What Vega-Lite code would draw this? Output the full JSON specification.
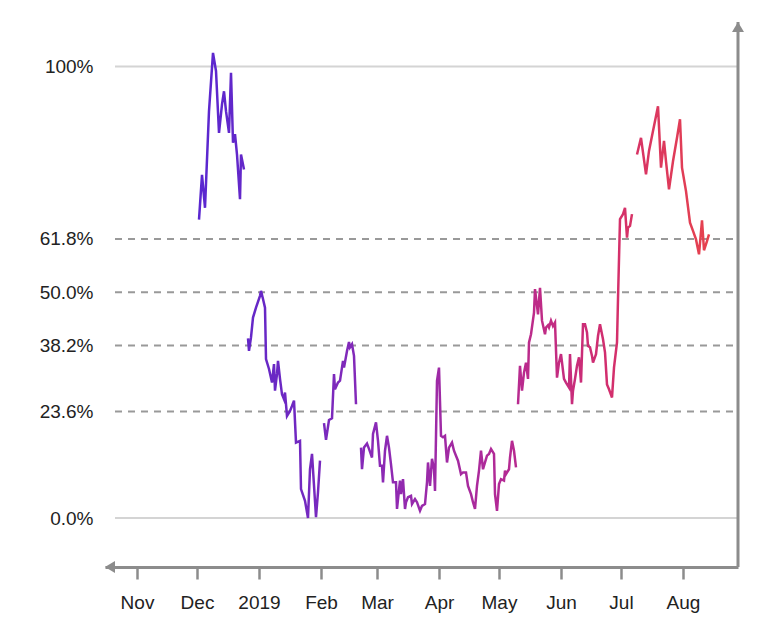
{
  "$schema": "https://vega.github.io/schema/vega-lite/v6.json",
  "width": 633,
  "height": 545,
  "autosize": {"type": "none"},
  "padding": {"left": 105, "top": 22, "right": 19, "bottom": 64},
  "background": "white",
  "config": {"view": {"stroke": null}, "font": "Liberation Sans"},
  "datasets": {
    "levels": [
      {"level": 0, "kind": "solid"},
      {"level": 0.236, "kind": "dashed"},
      {"level": 0.382, "kind": "dashed"},
      {"level": 0.5, "kind": "dashed"},
      {"level": 0.618, "kind": "dashed"},
      {"level": 1, "kind": "solid"}
    ],
    "series": [
      {"d": "2018-12-02", "v": 0.661},
      {"d": "2018-12-03T12:00Z", "v": 0.760},
      {"d": "2018-12-05", "v": 0.687},
      {"d": "2018-12-07", "v": 0.901},
      {"d": "2018-12-09", "v": 1.030},
      {"d": "2018-12-10T12:00Z", "v": 0.990},
      {"d": "2018-12-12", "v": 0.853},
      {"d": "2018-12-13T12:00Z", "v": 0.916},
      {"d": "2018-12-14T12:00Z", "v": 0.945},
      {"d": "2018-12-15T12:00Z", "v": 0.901},
      {"d": "2018-12-17", "v": 0.853},
      {"d": "2018-12-18", "v": 0.986},
      {"d": "2018-12-19", "v": 0.831},
      {"d": "2018-12-20", "v": 0.850},
      {"d": "2018-12-21", "v": 0.805},
      {"d": "2018-12-22T12:00Z", "v": 0.706},
      {"d": "2018-12-23", "v": 0.805},
      {"d": "2018-12-24T12:00Z", "v": 0.772},
      {"d": "2018-12-25T12:00Z", "v": null},
      {"d": "2018-12-26T12:00Z", "v": 0.398},
      {"d": "2018-12-27", "v": 0.370},
      {"d": "2018-12-28", "v": 0.400},
      {"d": "2018-12-29", "v": 0.444},
      {"d": "2018-12-30T12:00Z", "v": 0.466},
      {"d": "2019-01-01T12:00Z", "v": 0.492},
      {"d": "2019-01-02", "v": 0.503},
      {"d": "2019-01-03", "v": 0.485},
      {"d": "2019-01-04", "v": 0.466},
      {"d": "2019-01-04T12:00Z", "v": 0.352},
      {"d": "2019-01-06", "v": 0.330},
      {"d": "2019-01-07T12:00Z", "v": 0.300},
      {"d": "2019-01-08T12:00Z", "v": 0.341},
      {"d": "2019-01-09", "v": 0.282},
      {"d": "2019-01-10", "v": 0.319},
      {"d": "2019-01-10T12:00Z", "v": 0.348},
      {"d": "2019-01-11T12:00Z", "v": 0.308},
      {"d": "2019-01-12T12:00Z", "v": 0.274},
      {"d": "2019-01-13T12:00Z", "v": 0.263},
      {"d": "2019-01-14", "v": 0.278},
      {"d": "2019-01-15", "v": 0.226},
      {"d": "2019-01-16T12:00Z", "v": 0.237},
      {"d": "2019-01-17T12:00Z", "v": 0.248},
      {"d": "2019-01-18T12:00Z", "v": 0.260},
      {"d": "2019-01-19T12:00Z", "v": 0.167},
      {"d": "2019-01-21T12:00Z", "v": 0.171},
      {"d": "2019-01-22", "v": 0.064},
      {"d": "2019-01-24", "v": 0.038},
      {"d": "2019-01-25T12:00Z", "v": 0.000},
      {"d": "2019-01-26T12:00Z", "v": 0.108},
      {"d": "2019-01-27T12:00Z", "v": 0.142},
      {"d": "2019-01-29T12:00Z", "v": 0.002},
      {"d": "2019-01-30T12:00Z", "v": 0.057},
      {"d": "2019-01-31T12:00Z", "v": 0.127},
      {"d": "2019-02-01T12:00Z", "v": null},
      {"d": "2019-02-02T12:00Z", "v": 0.210},
      {"d": "2019-02-03T12:00Z", "v": 0.173},
      {"d": "2019-02-05", "v": 0.217},
      {"d": "2019-02-06T12:00Z", "v": 0.221},
      {"d": "2019-02-07T12:00Z", "v": 0.319},
      {"d": "2019-02-08", "v": 0.285},
      {"d": "2019-02-09T12:00Z", "v": 0.300},
      {"d": "2019-02-10T12:00Z", "v": 0.304},
      {"d": "2019-02-12", "v": 0.348},
      {"d": "2019-02-12T12:00Z", "v": 0.333},
      {"d": "2019-02-14", "v": 0.370},
      {"d": "2019-02-15", "v": 0.390},
      {"d": "2019-02-15T12:00Z", "v": 0.378},
      {"d": "2019-02-16T12:00Z", "v": 0.385},
      {"d": "2019-02-17T12:00Z", "v": 0.359},
      {"d": "2019-02-18T12:00Z", "v": 0.252},
      {"d": "2019-02-20", "v": null},
      {"d": "2019-02-21", "v": 0.156},
      {"d": "2019-02-21T12:00Z", "v": 0.108},
      {"d": "2019-02-22T12:00Z", "v": 0.156},
      {"d": "2019-02-24", "v": 0.165},
      {"d": "2019-02-25", "v": 0.153},
      {"d": "2019-02-26T12:00Z", "v": 0.134},
      {"d": "2019-02-27", "v": 0.186},
      {"d": "2019-02-28T12:00Z", "v": 0.212},
      {"d": "2019-03-01T12:00Z", "v": 0.171},
      {"d": "2019-03-02T12:00Z", "v": 0.116},
      {"d": "2019-03-03T12:00Z", "v": 0.116},
      {"d": "2019-03-04", "v": 0.079},
      {"d": "2019-03-05", "v": 0.149},
      {"d": "2019-03-06", "v": 0.182},
      {"d": "2019-03-07", "v": 0.156},
      {"d": "2019-03-08", "v": 0.119},
      {"d": "2019-03-09", "v": 0.079},
      {"d": "2019-03-10T12:00Z", "v": 0.079},
      {"d": "2019-03-11", "v": 0.020},
      {"d": "2019-03-12T12:00Z", "v": 0.083},
      {"d": "2019-03-13", "v": 0.053},
      {"d": "2019-03-14", "v": 0.086},
      {"d": "2019-03-15", "v": 0.020},
      {"d": "2019-03-15T12:00Z", "v": 0.035},
      {"d": "2019-03-16T12:00Z", "v": 0.046},
      {"d": "2019-03-18", "v": 0.049},
      {"d": "2019-03-18T12:00Z", "v": 0.031},
      {"d": "2019-03-20", "v": 0.042},
      {"d": "2019-03-21", "v": 0.035},
      {"d": "2019-03-22T12:00Z", "v": 0.016},
      {"d": "2019-03-23T12:00Z", "v": 0.027},
      {"d": "2019-03-25", "v": 0.031},
      {"d": "2019-03-26", "v": 0.079},
      {"d": "2019-03-26T12:00Z", "v": 0.123},
      {"d": "2019-03-27T12:00Z", "v": 0.071},
      {"d": "2019-03-28T12:00Z", "v": 0.131},
      {"d": "2019-03-29T12:00Z", "v": 0.108},
      {"d": "2019-03-30", "v": 0.060},
      {"d": "2019-03-31", "v": 0.304},
      {"d": "2019-04-01", "v": 0.333},
      {"d": "2019-04-02", "v": 0.182},
      {"d": "2019-04-03", "v": 0.179},
      {"d": "2019-04-04", "v": 0.182},
      {"d": "2019-04-05", "v": 0.123},
      {"d": "2019-04-06", "v": 0.156},
      {"d": "2019-04-07T12:00Z", "v": 0.167},
      {"d": "2019-04-08T12:00Z", "v": 0.149},
      {"d": "2019-04-09T12:00Z", "v": 0.138},
      {"d": "2019-04-10T12:00Z", "v": 0.127},
      {"d": "2019-04-12", "v": 0.097},
      {"d": "2019-04-13", "v": 0.101},
      {"d": "2019-04-14T12:00Z", "v": 0.101},
      {"d": "2019-04-15T12:00Z", "v": 0.071},
      {"d": "2019-04-17", "v": 0.053},
      {"d": "2019-04-18", "v": 0.035},
      {"d": "2019-04-19", "v": 0.020},
      {"d": "2019-04-20", "v": 0.071},
      {"d": "2019-04-21", "v": 0.105},
      {"d": "2019-04-22", "v": 0.149},
      {"d": "2019-04-23", "v": 0.108},
      {"d": "2019-04-24", "v": 0.123},
      {"d": "2019-04-25", "v": 0.138},
      {"d": "2019-04-26", "v": 0.142},
      {"d": "2019-04-27", "v": 0.153},
      {"d": "2019-04-28T12:00Z", "v": 0.142},
      {"d": "2019-04-29", "v": 0.053},
      {"d": "2019-04-30", "v": 0.016},
      {"d": "2019-05-01", "v": 0.075},
      {"d": "2019-05-02", "v": 0.086},
      {"d": "2019-05-03T12:00Z", "v": 0.083},
      {"d": "2019-05-04", "v": 0.105},
      {"d": "2019-05-04T12:00Z", "v": 0.097},
      {"d": "2019-05-06", "v": 0.108},
      {"d": "2019-05-06T12:00Z", "v": 0.134},
      {"d": "2019-05-07T12:00Z", "v": 0.171},
      {"d": "2019-05-08T12:00Z", "v": 0.149},
      {"d": "2019-05-09T12:00Z", "v": 0.112},
      {"d": "2019-05-10", "v": null},
      {"d": "2019-05-10T12:00Z", "v": 0.252},
      {"d": "2019-05-11T12:00Z", "v": 0.337},
      {"d": "2019-05-12T12:00Z", "v": 0.282},
      {"d": "2019-05-13T12:00Z", "v": 0.322},
      {"d": "2019-05-14T12:00Z", "v": 0.344},
      {"d": "2019-05-15T12:00Z", "v": 0.308},
      {"d": "2019-05-16", "v": 0.389},
      {"d": "2019-05-17", "v": 0.407},
      {"d": "2019-05-18T12:00Z", "v": 0.455},
      {"d": "2019-05-19", "v": 0.507},
      {"d": "2019-05-20T12:00Z", "v": 0.451},
      {"d": "2019-05-21T12:00Z", "v": 0.510},
      {"d": "2019-05-22T12:00Z", "v": 0.437},
      {"d": "2019-05-24", "v": 0.407},
      {"d": "2019-05-24T12:00Z", "v": 0.422},
      {"d": "2019-05-25T12:00Z", "v": 0.427},
      {"d": "2019-05-26", "v": 0.422},
      {"d": "2019-05-27", "v": 0.437},
      {"d": "2019-05-28", "v": 0.425},
      {"d": "2019-05-29", "v": 0.433},
      {"d": "2019-05-30", "v": 0.311},
      {"d": "2019-05-31", "v": 0.344},
      {"d": "2019-06-01", "v": 0.363},
      {"d": "2019-06-02T12:00Z", "v": 0.308},
      {"d": "2019-06-03T12:00Z", "v": 0.300},
      {"d": "2019-06-05", "v": 0.289},
      {"d": "2019-06-05T12:00Z", "v": 0.363},
      {"d": "2019-06-06T12:00Z", "v": 0.252},
      {"d": "2019-06-07", "v": 0.282},
      {"d": "2019-06-08", "v": 0.308},
      {"d": "2019-06-09", "v": 0.337},
      {"d": "2019-06-10", "v": 0.356},
      {"d": "2019-06-11", "v": 0.300},
      {"d": "2019-06-12", "v": 0.429},
      {"d": "2019-06-13", "v": 0.429},
      {"d": "2019-06-14", "v": 0.411},
      {"d": "2019-06-14T12:00Z", "v": 0.381},
      {"d": "2019-06-15T12:00Z", "v": 0.378},
      {"d": "2019-06-16T12:00Z", "v": 0.359},
      {"d": "2019-06-17", "v": 0.344},
      {"d": "2019-06-18T12:00Z", "v": 0.363},
      {"d": "2019-06-19T12:00Z", "v": 0.403},
      {"d": "2019-06-20T12:00Z", "v": 0.429},
      {"d": "2019-06-22", "v": 0.396},
      {"d": "2019-06-23", "v": 0.367},
      {"d": "2019-06-24", "v": 0.296},
      {"d": "2019-06-25", "v": 0.285},
      {"d": "2019-06-26T12:00Z", "v": 0.267},
      {"d": "2019-06-27T12:00Z", "v": 0.333},
      {"d": "2019-06-29", "v": 0.389},
      {"d": "2019-06-29T12:00Z", "v": 0.485},
      {"d": "2019-06-30T12:00Z", "v": 0.662},
      {"d": "2019-07-02", "v": 0.673},
      {"d": "2019-07-03", "v": 0.687},
      {"d": "2019-07-04", "v": 0.621},
      {"d": "2019-07-04T12:00Z", "v": 0.643},
      {"d": "2019-07-05T12:00Z", "v": 0.647},
      {"d": "2019-07-06T12:00Z", "v": 0.673},
      {"d": "2019-07-08", "v": null},
      {"d": "2019-07-09", "v": 0.805},
      {"d": "2019-07-11", "v": 0.842},
      {"d": "2019-07-13T12:00Z", "v": 0.761},
      {"d": "2019-07-15", "v": 0.813},
      {"d": "2019-07-17", "v": 0.857},
      {"d": "2019-07-19T12:00Z", "v": 0.912},
      {"d": "2019-07-21", "v": 0.776},
      {"d": "2019-07-22T12:00Z", "v": 0.835},
      {"d": "2019-07-23T12:00Z", "v": 0.790},
      {"d": "2019-07-25", "v": 0.728},
      {"d": "2019-07-27", "v": 0.790},
      {"d": "2019-07-29", "v": 0.842},
      {"d": "2019-07-30T12:00Z", "v": 0.883},
      {"d": "2019-07-31T12:00Z", "v": 0.776},
      {"d": "2019-08-02T12:00Z", "v": 0.724},
      {"d": "2019-08-04T12:00Z", "v": 0.654},
      {"d": "2019-08-06", "v": 0.636},
      {"d": "2019-08-07T12:00Z", "v": 0.617},
      {"d": "2019-08-09", "v": 0.584},
      {"d": "2019-08-10T12:00Z", "v": 0.659},
      {"d": "2019-08-11T12:00Z", "v": 0.593},
      {"d": "2019-08-13", "v": 0.613},
      {"d": "2019-08-14", "v": 0.628}
    ]
  },
  "layer": [
    {
      "data": {"name": "levels"},
      "transform": [{"filter": "datum.kind === 'solid'"}],
      "mark": {"type": "rule", "color": "#d4d4d4", "strokeWidth": 2},
      "encoding": {
        "x": {"datum": {"year": 2018, "month": 10, "date": 21, "utc": true}, "type": "temporal",
              "scale": {"type": "utc", "domain": [{"year": 2018, "month": 10, "date": 16, "utc": true}, {"year": 2019, "month": 8, "date": 28, "hours": 12, "utc": true}]}},
        "x2": {"datum": {"year": 2019, "month": 8, "date": 28, "hours": 12, "utc": true}},
        "y": {
          "field": "level", "type": "quantitative",
          "scale": {"domain": [-0.1085, 1.0985], "nice": false, "zero": false},
          "axis": {
            "title": null,
            "values": [0, 0.236, 0.382, 0.5, 0.618, 1],
            "labelExpr": "datum.value == 1 ? '100%' : format(datum.value, '.1%')",
            "domain": false, "ticks": false, "tickSize": 0, "labelPadding": 12,
            "grid": false, "labelFontSize": 19, "labelColor": "#222222", "labelFont": "Liberation Sans"
          }
        }
      }
    },
    {
      "data": {"name": "levels"},
      "transform": [{"filter": "datum.kind === 'dashed'"}],
      "mark": {"type": "rule", "color": "#999999", "strokeWidth": 2, "strokeDash": [7, 6]},
      "encoding": {
        "x": {"datum": {"year": 2018, "month": 10, "date": 21, "utc": true}, "type": "temporal"},
        "x2": {"datum": {"year": 2019, "month": 8, "date": 28, "hours": 12, "utc": true}},
        "y": {"field": "level", "type": "quantitative"}
      }
    },
    {
      "data": {"name": "series"},
      "mark": {
        "type": "line",
        "strokeWidth": 2.5,
        "invalid": "break-paths-show-domains",
        "color": {
          "gradient": "linear",
          "x1": 0, "y1": 0, "x2": 1, "y2": 0,
          "stops": [
            {"offset": 0, "color": "#5a27d0"},
            {"offset": 0.15, "color": "#6a28c4"},
            {"offset": 0.35, "color": "#8a2ab6"},
            {"offset": 0.6, "color": "#b42a94"},
            {"offset": 0.8, "color": "#d22e6e"},
            {"offset": 1, "color": "#e6424e"}
          ]
        }
      },
      "encoding": {
        "x": {
          "field": "d", "type": "temporal",
          "axis": {
            "title": null,
            "values": [
              {"year": 2018, "month": 11, "date": 1, "utc": true},
              {"year": 2018, "month": 12, "date": 1, "utc": true},
              {"year": 2019, "month": 1, "date": 1, "utc": true},
              {"year": 2019, "month": 2, "date": 1, "utc": true},
              {"year": 2019, "month": 3, "date": 1, "utc": true},
              {"year": 2019, "month": 4, "date": 1, "utc": true},
              {"year": 2019, "month": 5, "date": 1, "utc": true},
              {"year": 2019, "month": 6, "date": 1, "utc": true},
              {"year": 2019, "month": 7, "date": 1, "utc": true},
              {"year": 2019, "month": 8, "date": 1, "utc": true}
            ],
            "labelExpr": "utcmonth(datum.value) == 0 ? utcFormat(datum.value, '%Y') : utcFormat(datum.value, '%b')",
            "domain": true, "domainColor": "#8c8c8c", "domainWidth": 3,
            "ticks": true, "tickColor": "#8c8c8c", "tickWidth": 2.5, "tickSize": 12,
            "labelPadding": 14, "labelFontSize": 19, "labelColor": "#222222", "labelFont": "Liberation Sans",
            "grid": false, "labelFlush": false, "labelOverlap": false
          }
        },
        "y": {"field": "v", "type": "quantitative"}
      }
    },
    {
      "data": {"values": [{}]},
      "mark": {"type": "rule", "color": "#8c8c8c", "strokeWidth": 3},
      "encoding": {
        "x": {"datum": {"year": 2019, "month": 8, "date": 28, "hours": 12, "utc": true}, "type": "temporal"}
      }
    },
    {
      "data": {"values": [{}]},
      "mark": {"type": "point", "shape": "M0,0L0.75,1.25L-0.75,1.25Z", "filled": true, "size": 256, "color": "#8c8c8c", "opacity": 1, "strokeWidth": 0},
      "encoding": {
        "x": {"datum": {"year": 2019, "month": 8, "date": 28, "hours": 12, "utc": true}, "type": "temporal"},
        "y": {"datum": 1.0985, "type": "quantitative"}
      }
    },
    {
      "data": {"values": [{}]},
      "mark": {"type": "point", "shape": "M0,0L1.25,-0.75L1.25,0.75Z", "filled": true, "size": 256, "color": "#8c8c8c", "opacity": 1, "strokeWidth": 0},
      "encoding": {
        "x": {"datum": {"year": 2018, "month": 10, "date": 16, "utc": true}, "type": "temporal"},
        "y": {"datum": -0.1085, "type": "quantitative"}
      }
    }
  ]
}
